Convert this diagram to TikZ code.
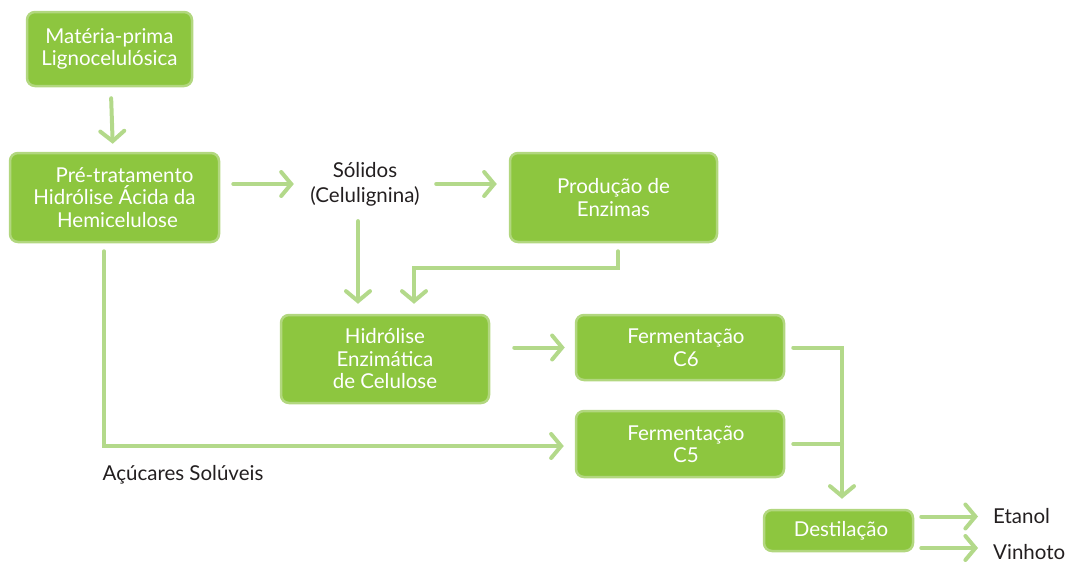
\documentclass[tikz,border=0pt]{standalone}
\usepackage{fontspec}
\setmainfont{Lato}
\usetikzlibrary{arrows.meta,calc}
\definecolor{boxfill}{HTML}{8DC63F}
\definecolor{boxline}{HTML}{B2D77F}
\definecolor{arrowc}{HTML}{B3D98A}
\definecolor{txt}{HTML}{231F20}
\tikzset{
  box/.style={draw=boxline, line width=2.5pt, fill=boxfill, rounded corners=8pt,
    text=white, align=center, font=\fontsize{20.5}{22.5}\selectfont, inner sep=0pt},
  lbl/.style={text=txt, align=center, font=\fontsize{20.5}{25}\selectfont, inner sep=0pt},
  conn/.style={draw=arrowc, line width=4pt, line cap=round,
    -{Straight Barb[length=10pt,width=24pt,line width=4pt,line cap=round]}},
  plain/.style={draw=arrowc, line width=4pt, line cap=round}
}
\begin{document}
\begin{tikzpicture}[x=1pt,y=-1pt]
\useasboundingbox (0,0) rectangle (1072,563);
\node[box, minimum width=165pt, minimum height=74pt] (b1) at (109.5,49) {Matéria-prima\\Lignocelulósica};
\node[box, minimum width=209pt, minimum height=89pt] (b2) at (114.5,197.5) {\hspace*{20pt}Pré-tratamento\\Hidrólise Ácida da\\\hspace*{6pt}Hemicelulose};
\node[lbl, minimum width=130pt] (sol) at (365,184) {Sólidos\\(Celulignina)};
\node[box, minimum width=207pt, minimum height=89pt] (b4) at (613.5,197.5) {Produção de\\Enzimas};
\node[box, minimum width=208pt, minimum height=88pt] (b5) at (385,359) {Hidrólise\\Enzimática\\de Celulose};
\node[box, minimum width=208pt, minimum height=65pt] (b6) at (680,347.5) {\hspace*{12pt}Fermentação\\\hspace*{12pt}C6};
\node[box, minimum width=208pt, minimum height=66pt] (b7) at (680,444) {\hspace*{12pt}Fermentação\\\hspace*{12pt}C5};
\node[box, minimum width=149pt, minimum height=41pt] (b8) at (838.5,530.5) {\hspace*{5pt}Destilação};
\node[lbl, anchor=west] (et) at (993,516) {Etanol};
\node[lbl, anchor=west] (vi) at (993,552) {Vinhoto};
\node[lbl] (acu) at (183,475) {Açúcares Solúveis};

\draw[conn, shorten <=11pt, shorten >=8pt] (b1) -- (b2);
\draw[conn, shorten <=13pt, shorten >=6pt] (b2.east |- sol.west) -- (sol.west);
\draw[conn, shorten <=6pt, shorten >=12pt] (sol.east) -- (sol.east -| b4.west);
\draw[conn, shorten <=15pt, shorten >=10pt] ([xshift=-7pt]sol.south) -- ([xshift=-27pt]b5.north);
\draw[conn, shorten <=8pt, shorten >=10pt] ([xshift=4.5pt]b4.south) -- ++(0,25) -| ([xshift=29pt]b5.north);
\draw[conn, shorten <=8pt, shorten >=11pt] ([xshift=-10.5pt]b2.south) |- ([yshift=-2pt]b7.west);
\draw[conn, shorten <=24pt, shorten >=10pt] (b5.east |- b6.west) -- (b6.west);
\coordinate (j) at ([xshift=3.5pt]b8.north);
\draw[conn, shorten <=8pt, shorten >=10pt] (b6.east) -| (j);
\draw[plain, shorten <=8pt] (b7.east) -- (b7.east -| j);
\coordinate (e1) at ([yshift=14pt]b8.east);
\coordinate (e2) at ([yshift=-17.5pt]b8.east);
\draw[conn, shorten <=7pt, shorten >=15pt] (e1) -- (e1 -| et.west);
\draw[conn, shorten <=7pt, shorten >=15pt] (e2) -- (e2 -| vi.west);
\end{tikzpicture}
\end{document}
